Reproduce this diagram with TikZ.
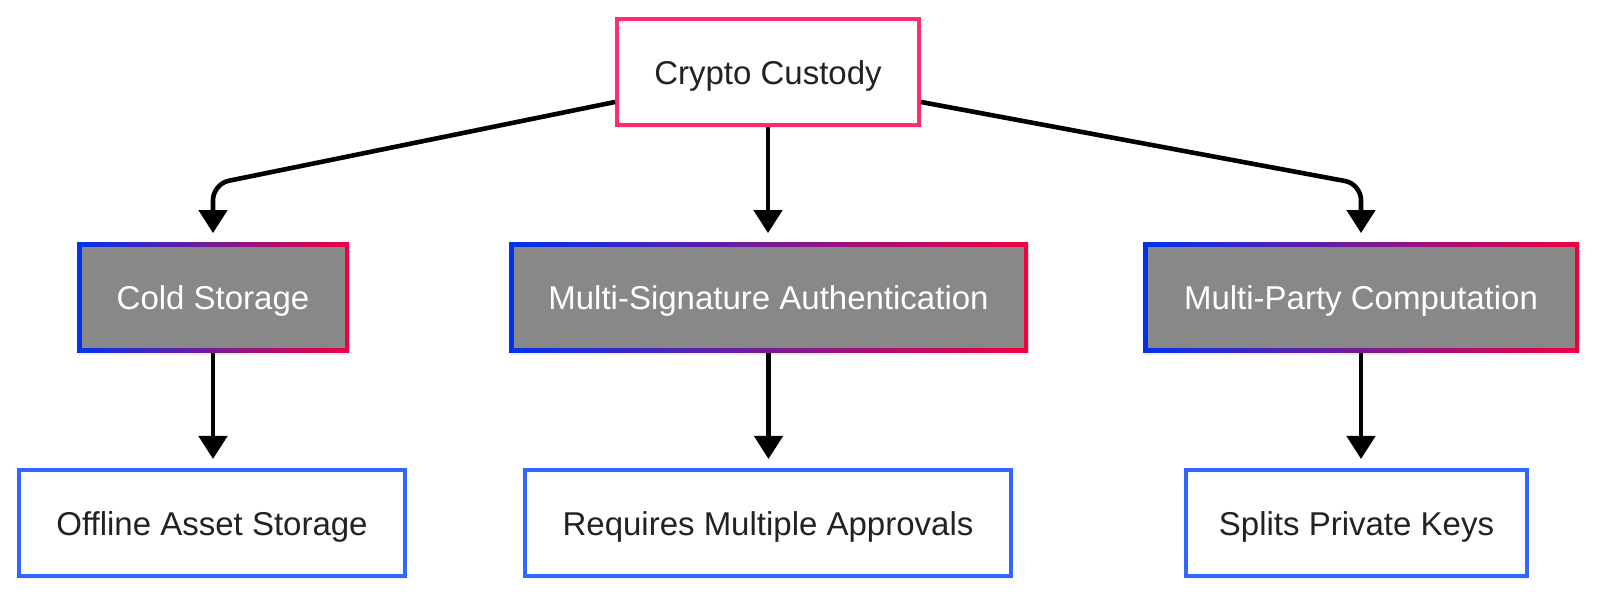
\documentclass[tikz,border=0pt]{standalone}
\usepackage{fontspec}
\setmainfont{Liberation Sans}
\usetikzlibrary{arrows.meta,shadows,calc}
\definecolor{topred}{HTML}{FF2D6B}
\definecolor{gblue}{HTML}{0033EE}
\definecolor{gred}{HTML}{F00040}
\definecolor{midgray}{HTML}{888888}
\definecolor{botblue}{HTML}{3366FF}
\definecolor{txt}{HTML}{222222}
\begin{document}
\begin{tikzpicture}[x=0.5pt,y=-0.5pt,
  font=\fontsize{16.5}{20}\selectfont,
  box/.style={rectangle, inner sep=0pt, text height=12.5pt, text depth=0pt, drop shadow={opacity=0.12,shadow xshift=0.5pt,shadow yshift=-1.5pt}},
  topbox/.style={box, draw=topred, line width=2pt, fill=white, text=txt, minimum height=53pt},
  midbox/.style={box, left color=gblue, right color=gred, text=white, minimum height=55pt,
    path picture={\fill[midgray] ([shift={(2.25pt,-2.25pt)}]path picture bounding box.north west) rectangle ([shift={(-2.25pt,2.25pt)}]path picture bounding box.south east);}},
  botbox/.style={box, draw=botblue, line width=2pt, fill=white, text=txt, minimum height=53pt},
  conn/.style={line width=2.3pt, -{Triangle[length=11.5pt,width=14pt]}, shorten >=4.5pt, rounded corners=8pt}]
\fill[white] (0,0) rectangle (1600,597);
\useasboundingbox (0,0) rectangle (1600,597);

\node[topbox, minimum width=151pt] (top) at (768,72) {Crypto Custody};

\node[midbox, minimum width=136pt] (cs) at (213,297.5) {Cold Storage};
\node[midbox, minimum width=259.5pt] (msa) at (768.5,297.5) {Multi-Signature Authentication};
\node[midbox, minimum width=218pt] (mpc) at (1361,297.5) {Multi-Party Computation};

\node[botbox, minimum width=193pt] (oas) at (212,523) {Offline Asset Storage};
\node[botbox, minimum width=243pt] (rma) at (768,523) {Requires Multiple Approvals};
\node[botbox, minimum width=170.5pt] (spk) at (1356.5,523) {Splits Private Keys};

\coordinate (l0) at ([yshift=-15pt]top.west);
\coordinate (lc) at (213,184);
\coordinate (r0) at ([yshift=-15pt]top.east);
\coordinate (rc) at (1361,184);

\draw[conn] (l0) -- (lc) -- (cs.north);
\draw[conn] (top.south) -- (top.south |- msa.north);
\draw[conn] (r0) -- (rc) -- (mpc.north);

\draw[conn] (cs.south) -- (cs.south |- oas.north);
\draw[conn] (msa.south) -- (msa.south |- rma.north);
\draw[conn] (mpc.south) -- (mpc.south |- spk.north);
\end{tikzpicture}
\end{document}
